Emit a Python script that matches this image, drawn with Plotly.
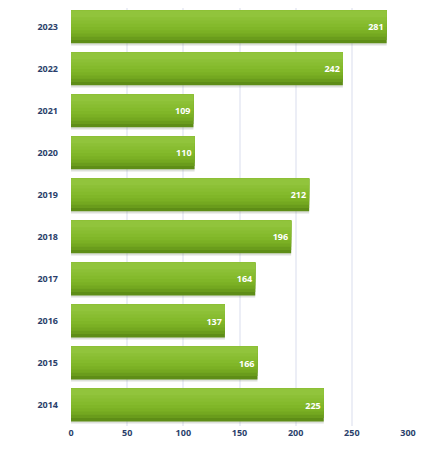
import plotly.graph_objects as go

years = ["2014", "2015", "2016", "2017", "2018", "2019", "2020", "2021", "2022", "2023"]
values = [225, 166, 137, 164, 196, 212, 110, 109, 242, 281]
x_ticks = [0, 50, 100, 150, 200, 250, 300]

fig = go.Figure()
W = 0.78
# soft shadow under each bar
fig.add_trace(go.Bar(
    y=years, x=values, orientation="h", width=W, offset=-W / 2 - 0.05,
    marker=dict(color="rgba(120,130,110,0.25)", line=dict(width=0)),
    hoverinfo="skip", showlegend=False,
))
# layered bars to mimic a vertical gradient (dark bottom, light top)
grad = ["#5e8d17", "#6a9c1c", "#74a820", "#7bb024", "#80b628",
        "#84ba2c", "#88bd31", "#8cc036", "#91c43c"]
n = len(grad)
for i, col in enumerate(grad):
    start = -W / 2 + W * (i / n) * 0.9
    fig.add_trace(go.Bar(
        y=years, x=values, orientation="h",
        width=W / 2 - start, offset=start,
        marker=dict(color=col, line=dict(width=0)),
        hoverinfo="skip", showlegend=False,
    ))
fig.add_trace(go.Bar(
    y=years, x=values, orientation="h", width=W, offset=-W / 2,
    marker=dict(color="rgba(0,0,0,0)", line=dict(width=0)),
    text=[str(v) for v in values], textposition="inside", insidetextanchor="end",
    textfont=dict(color="white", size=9, family="Open Sans", weight="bold"),
    showlegend=False,
))

fig.update_layout(
    width=423, height=447,
    margin=dict(l=63, r=23, t=0, b=29),
    barmode="overlay",
    plot_bgcolor="white", paper_bgcolor="white",
    font=dict(family="Open Sans", size=9, color="#2b3f6b"),
    xaxis=dict(range=[0, 300], tickvals=x_ticks, showgrid=True, automargin=False,
               gridcolor="#eceef6", gridwidth=1.5, zeroline=False,
               showline=False, tickfont=dict(size=9, color="#2b3f6b", weight="bold")),
    yaxis=dict(categoryorder="array", categoryarray=years, showgrid=False, automargin=False,
               ticklabelstandoff=12, tickfont=dict(size=9, color="#2b3f6b", weight="bold"),
               range=[-0.5, 9.452]),
)
fig.write_html("out.html")
